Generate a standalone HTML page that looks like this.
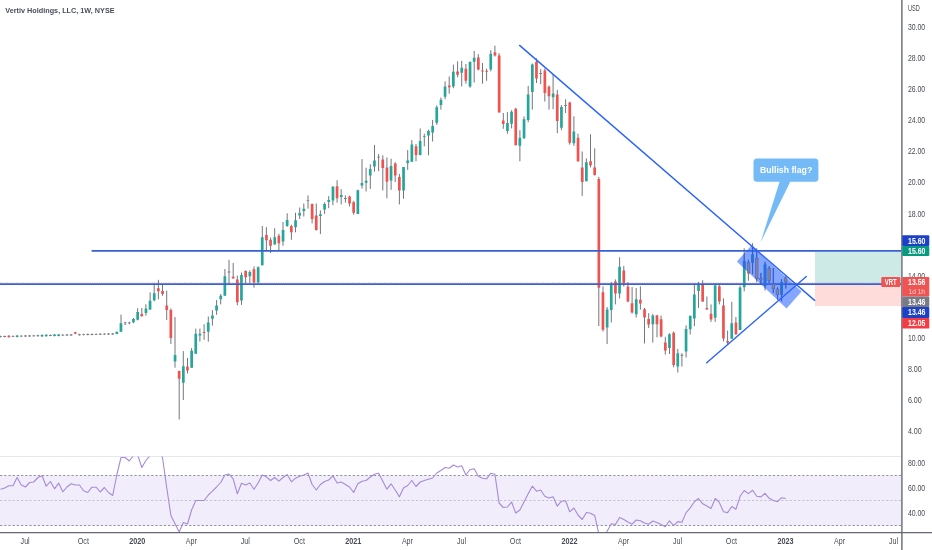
<!DOCTYPE html>
<html lang="en"><head><meta charset="utf-8"><title>Vertiv Holdings, LLC, 1W, NYSE</title>
<style>html,body{margin:0;padding:0;background:#fff}body{width:932px;height:550px;overflow:hidden}svg{display:block}</style></head>
<body>
<svg width="932" height="550" viewBox="0 0 932 550">
<defs><clipPath id="rc"><rect x="0" y="456.5" width="901" height="75.5"/></clipPath><clipPath id="fc"><polygon points="751.4,245.6 736.9,261.4 786.5,308.6 801.6,291.6"/></clipPath></defs>
<rect width="932" height="550" fill="#fff"/>
<rect x="0" y="475.5" width="901" height="50" fill="#f1edfa"/>
<path d="M0 475.5H901M0 525.5H901" stroke="#9093a0" stroke-width="1" stroke-dasharray="2.3 1.9" fill="none"/>
<path d="M0 500.5H901" stroke="#c3c5cd" stroke-width="1" stroke-dasharray="2.3 1.9" fill="none"/>
<path d="M0 456.5H901" stroke="#e6e8ee" stroke-width="1"/>
<polyline clip-path="url(#rc)" points="0.5,489.2 4.7,488 8.8,485.8 13,485.8 17.1,477.5 21.3,485 25.4,487 29.6,482.5 33.7,482 37.9,477.5 42.1,475.8 46.2,486.2 50.4,481.5 54.5,488.8 58.7,483.2 62.8,491.8 67,487 71.1,483.8 75.3,485 79.4,485 83.6,490.8 87.8,492.5 91.9,487.2 96.1,487.2 100.2,492 104.4,487.5 108.5,492.5 112.7,495.5 116.8,475 121,457.5 125.2,457.5 129.3,461 133.5,455.5 137.6,454.5 141.8,467.5 145.9,460.5 150.1,455.5 154.2,452.5 158.4,451.2 162.5,457.5 166.7,487.5 170.9,515.5 175,523.8 179.2,532 183.3,522.5 187.5,524 191.6,510 195.8,500.5 199.9,500.5 204.1,500.5 208.3,495 212.4,491.2 216.6,487 220.7,482.5 224.9,475 229,474 233.2,478.8 237.3,493.8 241.5,483.2 245.6,485 249.8,483 254,489.2 258.1,483 262.3,475 266.4,476.8 270.6,480.5 274.7,477.5 278.9,481.2 283,477.5 287.2,474.5 291.4,481.8 295.5,478.2 299.7,476.2 303.8,475 308,473 312.1,484.5 316.3,490 320.4,484.5 324.6,481.5 328.7,480 332.9,475.8 337.1,483 341.2,482 345.4,484.5 349.5,487 353.7,492.5 357.8,483.8 362,481.2 366.1,480.5 370.3,477 374.5,474.2 378.6,473.2 382.8,481.2 386.9,489.2 391.1,483.8 395.2,490 399.4,496.8 403.5,488 407.7,485.5 411.8,480.5 416,486.5 420.2,482 424.3,480.5 428.5,479.2 432.6,478 436.8,473 440.9,470.5 445.1,467.5 449.2,468.2 453.4,465 457.6,467 461.7,465.8 465.9,475 470,469.5 474.2,468.8 478.3,476.2 482.5,478.2 486.6,478.8 490.8,473.2 494.9,474.2 499.1,503 503.3,507.5 507.4,507 511.6,502 515.7,513 519.9,510 524,502 528.2,493.8 532.3,486.2 536.5,491.2 540.7,490 544.8,496.2 549,498 553.1,496.8 557.3,506.2 561.4,501.2 565.6,500.8 569.7,511.8 573.9,508 578,515 582.2,519.5 586.4,512.5 590.5,513.2 594.7,515.5 598.8,533.8 603,537.5 607.1,531.2 611.3,523.8 615.4,524.5 619.6,517.5 623.8,519.5 627.9,522 632.1,524.2 636.2,520 640.4,520.8 644.5,523 648.7,524.2 652.8,521 657,522.5 661.1,524.5 665.3,526.8 669.5,520.8 673.6,525.5 677.8,521.6 681.9,522.3 686.1,512.6 690.2,507.9 694.4,501.8 698.5,498.5 702.7,503.8 706.9,506 711,508.5 715.2,498.5 719.3,502.4 723.5,511.8 727.6,512.6 731.8,506.5 735.9,509.3 740.1,496.3 744.2,490.5 748.4,493.6 752.6,490.3 756.7,496.3 760.9,496.9 765,493.3 769.2,498.3 773.3,500.5 777.5,501.6 781.6,497.7 785.8,498.5" fill="none" stroke="#a68bd4" stroke-width="1.1" stroke-linejoin="round"/>
<rect x="815" y="251.5" width="86" height="32.2" fill="#cdeae7"/>
<rect x="815" y="283.7" width="86" height="22.4" fill="#fddcda"/>
<path d="M116.8 331.8V333.9M112.7 333V334.7M108.5 333.1V334.8M104.4 333.2V334.9M100.2 333.3V335M96.1 333.4V335.1M91.9 333.5V335.2M87.8 333.6V335.3M83.6 333.7V335.4M79.4 333.8V335.5M75.3 331.8V334.1M71.1 334V335.7M67 334.1V335.8M62.8 334.2V335.9M58.7 334V336.3M54.5 334.1V336.4M50.4 334.5V336.2M46.2 334.3V336.6M42.1 334.4V336.7M37.9 334.8V336.5M33.7 334.9V336.6M29.6 335V336.7M25.4 335.1V336.8M21.3 335.2V336.9M17.1 335V337.3M13 335.4V337.1M8.8 335.2V337.5M4.7 335.6V337.3M0.5 335.7V337.4M121 314.6V331.8M125.2 321.8V325M129.3 321.8V324.4M133.5 318V323.2M137.6 308.3V320.4M141.8 308V316.6M145.9 304.3V315.7M150.1 292.4V310M154.2 283.7V301.3M158.4 279.8V299.3M162.5 284.5V295.8M166.7 290.6V320M170.9 308.4V343.9M175 317V367.7M179.2 370.6V419.5M183.3 351.1V400M187.5 358V373.5M191.6 348.1V367.7M195.8 328.6V353.7M199.9 328.6V341.6M204.1 324.3V339.9M208.3 316.5V341.7M212.4 310.1V325.6M216.6 300.1V314.8M220.7 294V304.4M224.9 269V295.8M229 259.8V283.7M233.2 263V278.5M237.3 275.6V305.3M241.5 272.5V304.9M245.6 270.4V283.2M249.8 270.4V283.2M254 266.4V287.7M258.1 266.4V283.7M262.3 226V265.3M266.4 227.2V250.6M270.6 237.5V253.1M274.7 228.2V244.6M278.9 233.7V251M283 222V245.8M287.2 213.3V226.8M291.4 224.7V239.8M295.5 212.7V232.3M299.7 207.5V219M303.8 203.5V216.5M308 195.4V208.7M312.1 203.5V223.4M316.3 203.5V230.6M320.4 210.4V234.1M324.6 202.3V213.9M328.7 196.1V208.2M332.9 186.2V205.2M337.1 180.2V202.6M341.2 189.2V204.4M345.4 195.4V202.6M349.5 195.7V206.4M353.7 200.9V214.7M357.8 189.7V213.9M362 159.1V188.6M366.1 167.7V191.5M370.3 164.2V188.9M374.5 144.9V171.7M378.6 154.1V171.2M382.8 155.3V190.5M386.9 157.5V198.3M391.1 158.7V189.8M395.2 162.2V182M399.4 173.9V204.4M403.5 167V198.8M407.7 150.1V169.9M411.8 140.1V161.8M416 144V161.3M420.2 128.5V155.3M424.3 133.7V146.3M428.5 129.7V155.3M432.6 119.9V141.5M436.8 105.3V124.9M440.9 97.5V109.6M445.1 81.3V99.2M449.2 76.5V93.7M453.4 64.7V88.2M457.6 61.3V77.3M461.7 60.9V86.5M465.9 64V83.7M470 61.3V87.7M474.2 50.9V82.5M478.3 54V70.4M482.5 63V83.7M486.6 68.7V80.8M490.8 50.2V71.3M494.9 45.7V56.6M499.1 53.1V112.4M503.3 113V128.8M507.4 112.1V133.7M511.6 110.2V128.4M515.7 107.8V145.3M519.9 130.2V161.3M524 116.4V138.9M528.2 86V122.3M532.3 63.5V109.6M536.5 58.3V83M540.7 69.2V84.2M544.8 68.7V101.5M549 85.4V109.6M553.1 74.4V109.2M557.3 89.9V133.2M561.4 105V130.2M565.6 99.2V113M569.7 101.7V144.6M573.9 116.3V145.8M578 133.7V161.8M582.2 151.5V195.9M586.4 158.4V181.2M590.5 134.2V167.4M594.7 148.4V175.6M598.8 176.9V326M603 286.3V331.5M607.1 307V344.1M611.3 282V322.5M615.4 279.4V304.4M619.6 257.3V298.4M623.8 265.9V286.6M627.9 282V302.2M632.1 287.1V313.6M636.2 288V317.5M640.4 286.3V309.6M644.5 307.9V343.5M648.7 313.2V328.1M652.8 314V342.6M657 315.3V337.4M661.1 315.6V337.3M665.3 336.9V354.6M669.5 333.3V354M673.6 331.5V367.3M677.8 348.9V372.5M681.9 353.2V366.6M686.1 325.4V357.5M690.2 315.8V334.5M694.4 283.7V326.2M698.5 282V307.9M702.7 280.2V301.8M706.9 296.6V309.6M711 304.4V321.9M715.2 283.7V321.9M719.3 283.7V304.4M723.5 298.4V341.3M727.6 330.6V344.3M731.8 301.8V338.7M735.9 317V334.8M740.1 285.7V330.1M744.2 248.3V291.4M748.4 259.8V280.8M752.6 243.1V274.2M756.7 248.3V282.4M760.9 272.9V284.8M765 261.9V290.6M769.2 266.3V283.2M773.3 268V293M777.5 287.3V299.6M781.6 279.1V301.2M785.8 275.8V288.6" stroke="#454854" stroke-width="0.75" fill="none"/>
<path d="M115.5 331.8h2.7v2.1h-2.7zM57.3 334.5h2.7v1.5h-2.7zM53.2 334.6h2.7v1.5h-2.7zM44.9 334.8h2.7v1.5h-2.7zM40.7 334.9h2.7v1.5h-2.7zM15.8 335.5h2.7v1.5h-2.7zM119.6 323.2h2.7v8.6h-2.7zM132.1 318.9h2.7v3.4h-2.7zM136.3 312h2.7v7.7h-2.7zM144.6 308.4h2.7v4.7h-2.7zM148.7 300.8h2.7v8.7h-2.7zM152.9 293.2h2.7v7.1h-2.7zM173.7 355h2.7v6.4h-2.7zM182 366.3h2.7v16.4h-2.7zM190.3 350.7h2.7v17h-2.7zM194.4 333.8h2.7v19.9h-2.7zM198.6 333.8h2.7v1.8h-2.7zM206.9 322.5h2.7v9.3h-2.7zM211.1 315.6h2.7v3.1h-2.7zM215.2 305.6h2.7v4.8h-2.7zM219.4 295.8h2.7v3.4h-2.7zM223.5 276.3h2.7v19.5h-2.7zM240.1 275h2.7v25.6h-2.7zM248.5 272.1h2.7v4.2h-2.7zM256.8 267.3h2.7v15.2h-2.7zM260.9 237.2h2.7v28.1h-2.7zM273.4 237.2h2.7v7.4h-2.7zM281.7 229.9h2.7v11.6h-2.7zM285.8 219.9h2.7v6.1h-2.7zM294.2 220.3h2.7v6.9h-2.7zM298.3 213h2.7v2.6h-2.7zM302.5 208.7h2.7v2.2h-2.7zM319.1 214.2h2.7v1.7h-2.7zM323.2 204h2.7v5.5h-2.7zM327.4 200h2.7v2.1h-2.7zM331.6 186.7h2.7v13.9h-2.7zM339.9 194.9h2.7v2.2h-2.7zM356.5 190.2h2.7v23.7h-2.7zM360.6 182.9h2.7v2.7h-2.7zM364.8 180.8h2.7v1.9h-2.7zM368.9 169.1h2.7v6.5h-2.7zM373.1 160.4h2.7v6.1h-2.7zM389.7 166h2.7v14.4h-2.7zM402.2 167h2.7v23.6h-2.7zM406.3 160.4h2.7v2.6h-2.7zM410.5 144.6h2.7v17.2h-2.7zM418.8 140.9h2.7v14h-2.7zM423 135.9h2.7v0.9h-2.7zM427.1 131.1h2.7v4.3h-2.7zM431.3 125.9h2.7v6.6h-2.7zM435.4 107.2h2.7v15.5h-2.7zM439.6 99.8h2.7v5.2h-2.7zM443.7 86.5h2.7v10.3h-2.7zM452 71.8h2.7v14.7h-2.7zM460.4 67.8h2.7v4.9h-2.7zM468.7 62.1h2.7v24.4h-2.7zM472.8 57.8h2.7v4h-2.7zM489.4 53.7h2.7v15.8h-2.7zM506.1 122.9h2.7v8.2h-2.7zM510.2 111.8h2.7v12h-2.7zM518.5 137.7h2.7v8.1h-2.7zM522.7 119.3h2.7v19h-2.7zM526.8 94.6h2.7v25.4h-2.7zM531 64.4h2.7v27.6h-2.7zM551.8 93.4h2.7v3.8h-2.7zM560.1 107h2.7v20.7h-2.7zM572.5 131.4h2.7v11.8h-2.7zM585 162.2h2.7v19h-2.7zM605.8 309.6h2.7v17.8h-2.7zM609.9 284.2h2.7v25.9h-2.7zM618.2 266.8h2.7v26.7h-2.7zM634.9 299.2h2.7v15h-2.7zM651.5 315.6h2.7v8.7h-2.7zM668.1 334.2h2.7v13.8h-2.7zM676.4 353.2h2.7v13.4h-2.7zM684.7 328.9h2.7v22.6h-2.7zM688.9 315.8h2.7v13.5h-2.7zM693 294.6h2.7v23.8h-2.7zM697.2 283.7h2.7v7.4h-2.7zM713.8 285.4h2.7v32.3h-2.7zM730.4 323.2h2.7v15.5h-2.7zM738.7 287.5h2.7v42.6h-2.7zM742.9 261.1h2.7v26.2h-2.7zM751.2 254.6h2.7v8.1h-2.7zM763.7 264.4h2.7v21.3h-2.7zM780.3 282.1h2.7v12.6h-2.7z" fill="#26a69a"/>
<path d="M73.9 332.2h2.7v1.5h-2.7zM7.5 335.7h2.7v1.5h-2.7zM140.4 314h2.7v2.3h-2.7zM157 288.2h2.7v3.1h-2.7zM161.2 291.1h2.7v2.9h-2.7zM165.4 305.6h2.7v4.5h-2.7zM169.5 310.1h2.7v27.9h-2.7zM177.8 371.1h2.7v7.6h-2.7zM186.1 366.6h2.7v4h-2.7zM202.7 332h2.7v0.9h-2.7zM231.8 276.8h2.7v1.7h-2.7zM236 279.4h2.7v22.9h-2.7zM244.3 271.1h2.7v6.2h-2.7zM252.6 269.3h2.7v13.2h-2.7zM265.1 235.1h2.7v5.2h-2.7zM269.2 239.8h2.7v6h-2.7zM277.5 235.8h2.7v7.4h-2.7zM290 226h2.7v6.3h-2.7zM310.8 204h2.7v15h-2.7zM314.9 215.6h2.7v14.3h-2.7zM335.7 186.2h2.7v12.1h-2.7zM348.2 196.6h2.7v6.9h-2.7zM352.3 202.3h2.7v10.4h-2.7zM381.4 159.6h2.7v8.3h-2.7zM385.6 167.4h2.7v14.3h-2.7zM393.9 163.6h2.7v12h-2.7zM398 176.9h2.7v13.7h-2.7zM414.7 146.3h2.7v8.6h-2.7zM447.9 85.4h2.7v1.8h-2.7zM456.2 71.6h2.7v3.1h-2.7zM464.5 68.7h2.7v12.1h-2.7zM477 57.5h2.7v12h-2.7zM481.1 70.4h2.7v1.2h-2.7zM485.3 70.8h2.7v1h-2.7zM493.6 52.3h2.7v3.1h-2.7zM497.8 55.4h2.7v57h-2.7zM501.9 120.6h2.7v3.4h-2.7zM514.4 108.7h2.7v36.6h-2.7zM535.1 61.8h2.7v16.7h-2.7zM543.5 70.4h2.7v22.5h-2.7zM547.6 86.8h2.7v9.5h-2.7zM555.9 94.6h2.7v26.5h-2.7zM568.4 102.6h2.7v40.2h-2.7zM576.7 137.7h2.7v23.6h-2.7zM580.9 167.4h2.7v14.6h-2.7zM589.2 161.3h2.7v4h-2.7zM593.3 167.4h2.7v7.6h-2.7zM597.5 179h2.7v108.7h-2.7zM601.6 292.3h2.7v37.5h-2.7zM614.1 281.4h2.7v12.1h-2.7zM622.4 270.4h2.7v13.3h-2.7zM626.6 286.6h2.7v14.9h-2.7zM630.7 303.2h2.7v9.3h-2.7zM639 299.7h2.7v3.8h-2.7zM643.2 309.2h2.7v8.2h-2.7zM647.3 319.1h2.7v5.5h-2.7zM655.6 315.3h2.7v9h-2.7zM659.8 319.3h2.7v17.1h-2.7zM664 342.6h2.7v8h-2.7zM672.3 332.8h2.7v32.1h-2.7zM701.3 284.2h2.7v17.3h-2.7zM705.5 307.9h2.7v1.7h-2.7zM709.7 313.8h2.7v5.6h-2.7zM718 286.3h2.7v15.2h-2.7zM722.1 305.6h2.7v32.8h-2.7zM726.3 340.9h2.7v1.7h-2.7zM734.6 322.4h2.7v11.9h-2.7zM747.1 262.7h2.7v10.7h-2.7zM755.4 258.2h2.7v20.6h-2.7zM759.5 278.3h2.7v1.6h-2.7zM767.8 268.5h2.7v12.3h-2.7zM772 284h2.7v4.9h-2.7zM776.1 288.9h2.7v5.8h-2.7zM784.4 277.8h2.7v4.3h-2.7z" fill="#ef5350"/>
<path d="M111.3 333.5h2.7v0.9h-2.7zM107.2 333.6h2.7v0.9h-2.7zM103 333.7h2.7v0.9h-2.7zM98.9 333.8h2.7v0.9h-2.7zM94.7 333.9h2.7v0.9h-2.7zM90.6 334h2.7v0.9h-2.7zM86.4 334.1h2.7v0.9h-2.7zM82.3 334.2h2.7v0.9h-2.7zM78.1 334.3h2.7v0.9h-2.7zM69.8 334.5h2.7v0.9h-2.7zM65.6 334.6h2.7v0.9h-2.7zM61.5 334.7h2.7v0.9h-2.7zM49 335h2.7v0.9h-2.7zM36.5 335.3h2.7v0.9h-2.7zM32.4 335.4h2.7v0.9h-2.7zM28.2 335.5h2.7v0.9h-2.7zM24.1 335.6h2.7v0.9h-2.7zM19.9 335.7h2.7v0.9h-2.7zM11.6 335.9h2.7v0.9h-2.7zM3.3 336.1h2.7v0.9h-2.7zM-0.8 336.2h2.7v0.9h-2.7zM123.8 322.4h2.7v0.9h-2.7zM128 322.4h2.7v0.9h-2.7zM227.7 271.6h2.7v0.9h-2.7zM306.6 200.2h2.7v0.9h-2.7zM344 198.1h2.7v0.9h-2.7zM377.3 156.7h2.7v0.9h-2.7zM539.3 73h2.7v0.9h-2.7zM564.2 105h2.7v0.9h-2.7zM680.6 354.8h2.7v0.9h-2.7z" fill="#777a85"/>

<path d="M0 282.6H901" stroke="#f0704f" stroke-width="0.8" stroke-dasharray="1.1 1.2" opacity="0.45"/>
<path d="M91.6 250.9H901M0 284.1H901" stroke="#3860d5" stroke-width="1.6" fill="none"/>
<polygon points="751.4,245.6 736.9,261.4 786.5,308.6 801.6,291.6" fill="#2962ff" fill-opacity="0.57"/>
<g clip-path="url(#fc)"><path d="M744.2 248.3V291.4M748.4 259.8V280.8M752.6 243.1V274.2M756.7 248.3V282.4M760.9 272.9V284.8M765 261.9V290.6M769.2 266.3V283.2M773.3 268V293M777.5 287.3V299.6M781.6 279.1V301.2M785.8 275.8V288.6" stroke="#3358cf" stroke-width="0.9" fill="none"/><path d="M742.9 261.1h2.7v26.2h-2.7zM751.2 254.6h2.7v8.1h-2.7zM763.7 264.4h2.7v21.3h-2.7zM780.3 282.1h2.7v12.6h-2.7z" fill="#2d6fd8"/><path d="M747.1 262.7h2.7v10.7h-2.7zM755.4 258.2h2.7v20.6h-2.7zM759.5 278.3h2.7v1.6h-2.7zM767.8 268.5h2.7v12.3h-2.7zM772 284h2.7v4.9h-2.7zM776.1 288.9h2.7v5.8h-2.7zM784.4 277.8h2.7v4.3h-2.7z" fill="#80839f" stroke="#3f62d0" stroke-width="0.5"/></g>
<path d="M519.6 45.4L814.6 300.4M706.7 362.7L806.3 276.5" stroke="#2962ff" stroke-width="1.4" fill="none" stroke-linecap="round"/>
<path d="M779.8 181L760.6 242.4L790.6 181z" fill="#74baf7"/>
<rect x="753.5" y="158.5" width="64.9" height="23.2" rx="3.5" fill="#74baf7"/>
<text x="760" y="172.8" font-family="Liberation Sans, sans-serif" font-size="9.7" font-weight="bold" textLength="52.2" lengthAdjust="spacingAndGlyphs" fill="#fff" id="callout">Bullish flag?</text>
<path d="M901.9 0V550" stroke="#656874" stroke-width="1.4"/>
<path d="M0 532.6H932" stroke="#656874" stroke-width="1.1"/>
<text x="907.9" y="11.3" font-family="Liberation Sans, sans-serif" font-size="8.4" textLength="11.8" lengthAdjust="spacingAndGlyphs" fill="#484b56" id="usd">USD</text>
<text x="907.9" y="30" font-family="Liberation Sans, sans-serif" font-size="8.4" textLength="17.3" lengthAdjust="spacingAndGlyphs" fill="#484b56">30.00</text>
<text x="907.9" y="61.1" font-family="Liberation Sans, sans-serif" font-size="8.4" textLength="17.3" lengthAdjust="spacingAndGlyphs" fill="#484b56">28.00</text>
<text x="907.9" y="92.2" font-family="Liberation Sans, sans-serif" font-size="8.4" textLength="17.3" lengthAdjust="spacingAndGlyphs" fill="#484b56">26.00</text>
<text x="907.9" y="123.2" font-family="Liberation Sans, sans-serif" font-size="8.4" textLength="17.3" lengthAdjust="spacingAndGlyphs" fill="#484b56">24.00</text>
<text x="907.9" y="154.3" font-family="Liberation Sans, sans-serif" font-size="8.4" textLength="17.3" lengthAdjust="spacingAndGlyphs" fill="#484b56">22.00</text>
<text x="907.9" y="185.4" font-family="Liberation Sans, sans-serif" font-size="8.4" textLength="17.3" lengthAdjust="spacingAndGlyphs" fill="#484b56">20.00</text>
<text x="907.9" y="216.5" font-family="Liberation Sans, sans-serif" font-size="8.4" textLength="17.3" lengthAdjust="spacingAndGlyphs" fill="#484b56">18.00</text>
<text x="907.9" y="278.6" font-family="Liberation Sans, sans-serif" font-size="8.4" textLength="17.3" lengthAdjust="spacingAndGlyphs" fill="#484b56">14.00</text>
<text x="907.9" y="340.8" font-family="Liberation Sans, sans-serif" font-size="8.4" textLength="17.3" lengthAdjust="spacingAndGlyphs" fill="#484b56">10.00</text>
<text x="907.9" y="371.9" font-family="Liberation Sans, sans-serif" font-size="8.4" textLength="13.9" lengthAdjust="spacingAndGlyphs" fill="#484b56">8.00</text>
<text x="907.9" y="403" font-family="Liberation Sans, sans-serif" font-size="8.4" textLength="13.9" lengthAdjust="spacingAndGlyphs" fill="#484b56">6.00</text>
<text x="907.9" y="434" font-family="Liberation Sans, sans-serif" font-size="8.4" textLength="13.9" lengthAdjust="spacingAndGlyphs" fill="#484b56">4.00</text>
<text x="907.9" y="465.8" font-family="Liberation Sans, sans-serif" font-size="8.4" textLength="17.3" lengthAdjust="spacingAndGlyphs" fill="#484b56">80.00</text>
<text x="907.9" y="490.6" font-family="Liberation Sans, sans-serif" font-size="8.4" textLength="17.3" lengthAdjust="spacingAndGlyphs" fill="#484b56">60.00</text>
<text x="907.9" y="516.4" font-family="Liberation Sans, sans-serif" font-size="8.4" textLength="17.3" lengthAdjust="spacingAndGlyphs" fill="#484b56">40.00</text>
<rect x="902.2" y="235.3" width="27.1" height="10.6" rx="1" fill="#1c41c7"/>
<rect x="902.2" y="245.9" width="27.1" height="10.2" rx="1" fill="#089981"/>
<rect x="902.2" y="277.1" width="27.1" height="19.5" rx="1" fill="#ee5452"/>
<rect x="881.3" y="277.1" width="19" height="10" rx="1" fill="#ee5452"/>
<rect x="902.2" y="296.6" width="27.1" height="10.4" rx="1" fill="#787b86"/>
<rect x="902.2" y="307" width="27.1" height="10.9" rx="1" fill="#1c41c7"/>
<rect x="902.2" y="317.9" width="27.1" height="10.5" rx="1" fill="#f23d44"/>
<text x="908.1" y="243.5" font-family="Liberation Sans, sans-serif" font-size="8.4" font-weight="bold" textLength="17.4" lengthAdjust="spacingAndGlyphs" fill="#fff">15.60</text>
<text x="908.1" y="254" font-family="Liberation Sans, sans-serif" font-size="8.4" font-weight="bold" textLength="17.4" lengthAdjust="spacingAndGlyphs" fill="#fff">15.60</text>
<text x="908.1" y="285" font-family="Liberation Sans, sans-serif" font-size="8.4" font-weight="bold" textLength="17.4" lengthAdjust="spacingAndGlyphs" fill="#fff">13.56</text>
<text x="908.1" y="304.5" font-family="Liberation Sans, sans-serif" font-size="8.4" font-weight="bold" textLength="17.4" lengthAdjust="spacingAndGlyphs" fill="#fff">13.46</text>
<text x="908.1" y="315.3" font-family="Liberation Sans, sans-serif" font-size="8.4" font-weight="bold" textLength="17.4" lengthAdjust="spacingAndGlyphs" fill="#fff">13.46</text>
<text x="908.1" y="325.9" font-family="Liberation Sans, sans-serif" font-size="8.4" font-weight="bold" textLength="17.4" lengthAdjust="spacingAndGlyphs" fill="#fff">12.05</text>
<text x="908.5" y="293.6" font-family="Liberation Sans, sans-serif" font-size="8.0" textLength="16.5" lengthAdjust="spacingAndGlyphs" fill="#fbcfce">1d 1h</text>
<text x="884.7" y="285" font-family="Liberation Sans, sans-serif" font-size="8.4" font-weight="bold" textLength="11.8" lengthAdjust="spacingAndGlyphs" fill="#fff" id="vrt">VRT</text>
<text x="20.6" y="543.6" font-family="Liberation Sans, sans-serif" font-size="8.4" textLength="9.1" lengthAdjust="spacingAndGlyphs" fill="#484b56">Jul</text>
<text x="77.7" y="543.6" font-family="Liberation Sans, sans-serif" font-size="8.4" textLength="11.3" lengthAdjust="spacingAndGlyphs" fill="#484b56">Oct</text>
<text x="129.3" y="543.6" font-family="Liberation Sans, sans-serif" font-size="8.4" font-weight="bold" textLength="16.1" lengthAdjust="spacingAndGlyphs" fill="#484b56">2020</text>
<text x="185.8" y="543.6" font-family="Liberation Sans, sans-serif" font-size="8.4" textLength="11" lengthAdjust="spacingAndGlyphs" fill="#484b56">Apr</text>
<text x="240.8" y="543.6" font-family="Liberation Sans, sans-serif" font-size="8.4" textLength="9.1" lengthAdjust="spacingAndGlyphs" fill="#484b56">Jul</text>
<text x="293.7" y="543.6" font-family="Liberation Sans, sans-serif" font-size="8.4" textLength="11.3" lengthAdjust="spacingAndGlyphs" fill="#484b56">Oct</text>
<text x="345.3" y="543.6" font-family="Liberation Sans, sans-serif" font-size="8.4" font-weight="bold" textLength="16.1" lengthAdjust="spacingAndGlyphs" fill="#484b56">2021</text>
<text x="401.9" y="543.6" font-family="Liberation Sans, sans-serif" font-size="8.4" textLength="11" lengthAdjust="spacingAndGlyphs" fill="#484b56">Apr</text>
<text x="456.9" y="543.6" font-family="Liberation Sans, sans-serif" font-size="8.4" textLength="9.1" lengthAdjust="spacingAndGlyphs" fill="#484b56">Jul</text>
<text x="509.8" y="543.6" font-family="Liberation Sans, sans-serif" font-size="8.4" textLength="11.3" lengthAdjust="spacingAndGlyphs" fill="#484b56">Oct</text>
<text x="561.4" y="543.6" font-family="Liberation Sans, sans-serif" font-size="8.4" font-weight="bold" textLength="16.1" lengthAdjust="spacingAndGlyphs" fill="#484b56">2022</text>
<text x="618" y="543.6" font-family="Liberation Sans, sans-serif" font-size="8.4" textLength="11" lengthAdjust="spacingAndGlyphs" fill="#484b56">Apr</text>
<text x="672.9" y="543.6" font-family="Liberation Sans, sans-serif" font-size="8.4" textLength="9.1" lengthAdjust="spacingAndGlyphs" fill="#484b56">Jul</text>
<text x="725.8" y="543.6" font-family="Liberation Sans, sans-serif" font-size="8.4" textLength="11.3" lengthAdjust="spacingAndGlyphs" fill="#484b56">Oct</text>
<text x="777.5" y="543.6" font-family="Liberation Sans, sans-serif" font-size="8.4" font-weight="bold" textLength="16.1" lengthAdjust="spacingAndGlyphs" fill="#484b56">2023</text>
<text x="834" y="543.6" font-family="Liberation Sans, sans-serif" font-size="8.4" textLength="11" lengthAdjust="spacingAndGlyphs" fill="#484b56">Apr</text>
<text x="889" y="543.6" font-family="Liberation Sans, sans-serif" font-size="8.4" textLength="9.1" lengthAdjust="spacingAndGlyphs" fill="#484b56">Jul</text>
<text x="5.3" y="13.2" font-family="Liberation Sans, sans-serif" font-size="7.9" font-weight="bold" textLength="109.3" lengthAdjust="spacingAndGlyphs" fill="#4a4e5c" id="hdr">Vertiv Holdings, LLC, 1W, NYSE</text>
</svg>
</body></html>
